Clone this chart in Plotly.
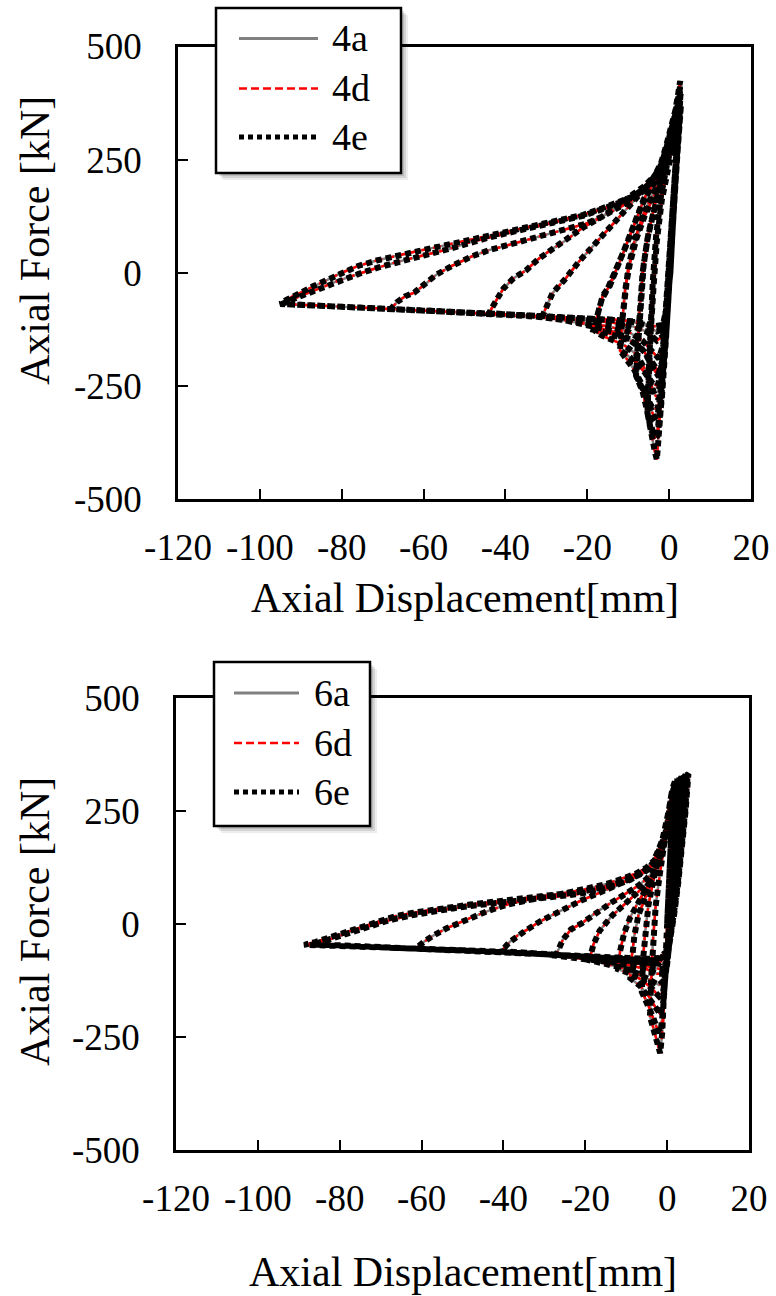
import plotly.graph_objects as go

W, H = 776, 1296
FONT = "Liberation Serif"

# ---------------- data (displacement mm, force kN) ----------------
# Specimen 4: the three analyses (4a, 4d, 4e) practically coincide in the picture.
path_4 = [
    (0, 0), (1.5, 200), (2.0, 290), (1.0, 150), (0, 10), (-1.0, -130), (-2.0, -290),
    (-1.0, -150), (0.5, 60), (1.8, 260), (2.3, 330), (1.2, 180), (0.2, 20), (-1.0, -150),
    (-2.2, -320), (-3.0, -413),
    (-3.5, -395), (-4.2, -360), (-5.3, -310),
    (-5.0, -220), (-4.6, -120), (-4.0, -20), (-3.2, 80), (-2.0, 170), (-0.5, 240), (1.0, 290),
    (2.0, 330), (2.4, 345),
    (1.5, 220), (0.6, 80), (-0.2, -40), (-1.0, -170), (-2.0, -290), (-3.0, -360), (-4.0, -350),
    (-5.3, -310),
    (-5.0, -230), (-4.5, -130), (-3.8, -30), (-3.0, 70), (-1.8, 160), (-0.3, 235), (1.2, 295),
    (2.2, 335), (2.6, 350),
    (1.7, 230), (0.9, 90), (0.1, -30), (-0.8, -150), (-1.8, -280), (-2.8, -360), (-3.6, -365),
    (-4.5, -345), (-5.5, -300), (-6.5, -262), (-8.1, -227),
    (-7.6, -150), (-7.0, -60), (-6.2, 20), (-5.0, 90), (-3.5, 150), (-2.0, 200), (-0.5, 250),
    (1.2, 300), (2.4, 350),
    (1.6, 240), (0.7, 100), (-0.1, -30), (-0.9, -140), (-1.8, -240), (-2.8, -300), (-4.0, -300),
    (-5.5, -275), (-7.0, -245), (-8.1, -227),
    (-7.7, -160), (-7.2, -80), (-6.5, 0), (-5.3, 75), (-3.8, 140), (-2.2, 195), (-0.7, 245),
    (1.0, 295), (2.3, 345),
    (1.5, 230), (0.6, 90), (-0.2, -30), (-1.0, -140), (-1.9, -250), (-2.8, -315), (-3.6, -320),
    (-5.0, -290), (-6.5, -250), (-8.5, -215), (-10.2, -192), (-12.0, -172),
    (-11.5, -110), (-10.8, -40), (-10.0, 10), (-8.5, 70), (-6.5, 125), (-4.5, 165), (-2.5, 200),
    (-0.8, 245), (1.0, 300), (2.5, 360),
    (1.6, 240), (0.7, 95), (-0.1, -20), (-0.9, -120), (-1.8, -210), (-2.8, -250), (-4.0, -245),
    (-6.0, -220), (-8.5, -195), (-10.5, -180), (-12.0, -172),
    (-11.4, -100), (-10.6, -30), (-9.6, 20), (-8.0, 75), (-6.0, 125), (-4.0, 163), (-2.2, 198),
    (-0.6, 245), (1.2, 305), (2.8, 365),
    (1.9, 250), (1.0, 110), (0.2, -10), (-0.6, -120), (-1.5, -220), (-2.4, -280), (-3.5, -270),
    (-5.5, -220), (-8.0, -180), (-11.0, -160), (-14.0, -148), (-16.4, -139), (-18.5, -126),
    (-17.5, -90), (-16.2, -50), (-14.5, -29), (-12.0, 25), (-10.0, 73), (-8.0, 120), (-6.3, 161),
    (-4.5, 190), (-2.5, 215), (-0.8, 255), (1.2, 320), (2.6, 370),
    (1.8, 260), (0.9, 120), (0.1, -10), (-0.7, -110), (-1.5, -190), (-2.5, -220), (-4.0, -200),
    (-6.5, -170), (-9.5, -150), (-13.0, -138), (-16.0, -131), (-18.5, -126),
    (-17.6, -95), (-16.5, -60), (-15.0, -35), (-12.5, 15), (-10.5, 60), (-8.5, 108), (-6.6, 150),
    (-4.6, 185), (-2.6, 212), (-0.9, 252), (1.0, 315), (2.9, 372),
    (2.0, 260), (1.0, 110), (0.2, -10), (-0.6, -110), (-1.5, -190), (-2.5, -230), (-4.0, -210),
    (-6.0, -175), (-9.0, -150), (-13.0, -132), (-17.0, -122), (-21.0, -113), (-26.0, -104),
    (-31.0, -97),
    (-30.0, -75), (-28.5, -45), (-27.0, -30), (-25.5, -15), (-22.0, 25), (-19.0, 55), (-16.4, 80),
    (-13.0, 115), (-10.0, 146), (-7.0, 175), (-4.5, 200), (-2.5, 225), (-0.8, 265), (1.2, 330),
    (2.7, 380),
    (1.9, 270), (0.9, 120), (0.1, -10), (-0.7, -100), (-1.5, -160), (-2.5, -190), (-4.0, -175),
    (-6.5, -150), (-10.0, -130), (-15.0, -118), (-20.0, -112), (-26.0, -104), (-32.0, -97),
    (-38.0, -93), (-44.0, -89),
    (-42.5, -65), (-40.5, -35), (-38.0, -12), (-35.0, 5), (-32.0, 30), (-29.0, 50), (-25.5, 70),
    (-21.0, 100), (-16.4, 124), (-12.5, 148), (-9.0, 170), (-6.0, 192), (-3.5, 215), (-1.5, 245),
    (0.3, 290), (2.0, 365), (2.8, 398),
    (2.0, 280), (1.0, 130), (0.2, 0), (-0.7, -90), (-1.5, -140), (-3.0, -150), (-5.5, -130),
    (-9.0, -118), (-14.0, -110), (-20.0, -105), (-28.0, -100), (-36.0, -95), (-45.0, -91),
    (-52.0, -87), (-58.0, -85), (-63.0, -82), (-68.0, -80),
    (-66.5, -65), (-64.5, -52), (-62.3, -44), (-59.5, -25), (-57.0, -5), (-53.1, 15), (-48.0, 37),
    (-44.0, 50), (-39.0, 62), (-34.7, 73), (-30.0, 84), (-25.5, 95), (-20.5, 108), (-16.4, 124),
    (-12.5, 142), (-9.0, 161), (-6.5, 180), (-4.0, 205), (-2.0, 235), (-0.5, 275), (1.2, 340),
    (2.7, 410),
    (2.0, 290), (1.0, 130), (0.3, 0), (-0.6, -80), (-1.4, -125), (-3.0, -130), (-6.0, -115),
    (-10.0, -106), (-16.0, -102), (-25.0, -99), (-35.0, -94), (-45.0, -90), (-57.7, -85),
    (-68.0, -80), (-75.0, -77), (-82.5, -73), (-89.0, -71), (-95.0, -69),
    (-93.5, -60), (-92.0, -52), (-90.0, -44), (-87.0, -30), (-83.4, -15), (-80.0, 0), (-76.0, 15),
    (-71.5, 27), (-67.0, 37), (-62.5, 46), (-57.7, 55), (-53.0, 64), (-48.5, 73), (-44.0, 82),
    (-39.3, 91), (-35.0, 100), (-30.1, 110), (-25.5, 119), (-21.0, 128), (-16.5, 142),
    (-11.8, 157), (-9.0, 168), (-7.2, 179), (-5.0, 195), (-3.5, 215), (-2.0, 242), (-0.8, 278),
    (0.5, 320), (1.5, 358), (2.2, 395), (2.7, 424),
    (2.0, 300), (1.1, 140), (0.3, 0), (-0.6, -75), (-1.5, -115), (-3.5, -118), (-8.0, -108),
    (-15.0, -103), (-25.0, -99), (-35.0, -94), (-45.0, -90), (-57.7, -85), (-68.0, -80),
    (-75.0, -77), (-82.5, -73), (-89.0, -71), (-94.5, -69),
    (-93.0, -62), (-91.0, -55), (-88.0, -45), (-85.0, -33), (-81.0, -18), (-76.0, -3),
    (-71.0, 12), (-66.0, 25), (-60.0, 38), (-54.0, 52), (-48.5, 68), (-44.0, 78), (-39.3, 88),
    (-35.0, 97), (-30.1, 107), (-25.5, 117), (-21.0, 126), (-16.5, 140), (-11.8, 155),
    (-9.0, 166), (-7.2, 177), (-5.0, 193), (-3.5, 212), (-2.0, 238), (-0.8, 272), (0.6, 315),
    (1.8, 360), (3.0, 400),
]

# Specimen 6: the three analyses (6a, 6d, 6e) practically coincide in the picture.
path_6 = [
    (0, 0), (0.6, 120), (1.2, 250), (0.5, 120), (0, 0), (-0.6, -130), (-1.0, -220), (-0.4, -100),
    (0.4, 60), (1.0, 200), (1.5, 300), (1.1, 200), (0.5, 80), (0, -20), (-0.6, -140),
    (-1.2, -240), (-1.7, -286),
    (-2.3, -265), (-3.2, -235), (-4.2, -205),
    (-3.9, -120), (-3.5, -40), (-2.8, 40), (-1.8, 110), (-0.6, 180), (0.5, 250), (1.3, 300),
    (2.0, 318),
    (1.7, 240), (1.2, 150), (0.7, 60), (0.2, -30), (-0.4, -120), (-1.0, -190), (-1.6, -240),
    (-2.5, -230), (-3.5, -205), (-4.8, -175), (-6.2, -150),
    (-5.9, -80), (-5.4, -20), (-4.6, 40), (-3.5, 90), (-2.2, 140), (-0.8, 195), (0.6, 255),
    (1.6, 300), (2.5, 320),
    (2.1, 240), (1.5, 150), (0.9, 60), (0.3, -30), (-0.3, -110), (-0.9, -170), (-1.6, -200),
    (-2.8, -185), (-4.5, -160), (-6.5, -138), (-9.0, -120),
    (-8.6, -70), (-8.0, -25), (-7.0, 20), (-5.3, 60), (-3.5, 100), (-2.0, 140), (-0.8, 185),
    (0.5, 245), (1.8, 300), (3.0, 322),
    (2.5, 230), (1.8, 140), (1.0, 50), (0.3, -40), (-0.3, -110), (-1.0, -150), (-2.0, -160),
    (-4.0, -140), (-6.5, -122), (-9.5, -108), (-12.0, -100),
    (-11.5, -60), (-10.5, -20), (-9.0, 15), (-7.0, 50), (-5.0, 80), (-3.5, 105), (-2.0, 140),
    (-0.8, 180), (0.6, 245), (2.0, 305), (3.5, 325),
    (3.0, 240), (2.3, 150), (1.5, 60), (0.6, -30), (0, -90), (-0.8, -125), (-2.0, -135),
    (-4.0, -125), (-7.0, -110), (-10.5, -98), (-14.0, -90), (-17.0, -84), (-19.0, -80),
    (-18.0, -45), (-16.5, -15), (-13.5, 18), (-11.0, 38), (-8.5, 58), (-6.0, 80), (-4.0, 100),
    (-2.5, 125), (-1.0, 165), (0.5, 230), (2.2, 300), (4.0, 325),
    (3.4, 230), (2.6, 140), (1.7, 60), (0.8, -20), (0.1, -80), (-0.8, -110), (-2.5, -110),
    (-5.0, -100), (-9.0, -92), (-14.0, -84), (-20.0, -78), (-24.0, -73), (-27.2, -70),
    (-25.5, -35), (-23.5, -12), (-20.8, 2), (-17.0, 28), (-13.5, 48), (-11.7, 58), (-9.0, 72),
    (-7.0, 85), (-5.0, 100), (-3.0, 120), (-1.5, 150), (0.2, 210), (2.2, 295), (4.5, 330),
    (3.8, 230), (3.0, 140), (2.0, 60), (1.0, -15), (0.2, -70), (-0.8, -100), (-3.0, -98),
    (-7.0, -88), (-13.0, -80), (-20.0, -74), (-27.0, -68), (-33.0, -64), (-37.0, -62),
    (-40.5, -60),
    (-38.5, -40), (-36.5, -25), (-34.5, -14), (-31.0, 6), (-28.0, 20), (-25.4, 32), (-21.0, 52),
    (-16.3, 70), (-12.0, 88), (-9.0, 100), (-6.0, 112), (-4.0, 125), (-2.3, 145), (-0.8, 180),
    (1.0, 240), (2.8, 305), (4.7, 331),
    (4.1, 250), (3.3, 180), (2.4, 91), (1.4, 30), (0.5, -30), (-0.4, -70), (-2.0, -88),
    (-5.0, -85), (-10.0, -80), (-16.0, -75), (-22.0, -71), (-30.0, -67), (-40.0, -61),
    (-48.0, -59), (-55.0, -57), (-61.5, -55),
    (-59.5, -40), (-57.4, -27), (-54.0, -10), (-51.0, 2), (-48.2, 13), (-44.0, 28), (-39.1, 43),
    (-34.5, 53), (-30.0, 60), (-25.0, 68), (-20.0, 77), (-15.0, 88), (-11.0, 100), (-7.5, 112),
    (-5.0, 125), (-3.0, 142), (-1.5, 165), (0.0, 205), (1.5, 255), (3.5, 315), (5.0, 330),
    (4.4, 250), (3.6, 170), (2.6, 90), (1.6, 20), (0.6, -35), (-0.4, -65), (-2.0, -80),
    (-5.0, -80), (-10.0, -77), (-17.0, -74), (-25.0, -70), (-33.0, -65), (-41.0, -61),
    (-50.0, -58), (-57.4, -56), (-66.5, -52), (-73.0, -50), (-80.2, -48), (-85.0, -47),
    (-88.7, -46),
    (-86.0, -40), (-82.9, -31), (-79.0, -20), (-75.6, -9), (-71.0, 4), (-66.5, 17), (-62.0, 25),
    (-57.4, 32), (-53.0, 38), (-48.2, 43), (-43.5, 48), (-39.1, 52.5), (-34.5, 57), (-30.0, 61),
    (-25.5, 66), (-20.8, 72), (-16.0, 81), (-11.7, 91), (-8.5, 102), (-6.2, 113), (-4.5, 125),
    (-3.5, 135), (-2.6, 154), (-1.8, 170), (-0.8, 194), (0.2, 240), (1.1, 290), (2.5, 315),
    (4.0, 325), (5.2, 332),
    (4.5, 250), (3.7, 170), (2.7, 90), (1.7, 20), (0.7, -35), (-0.3, -62), (-2.0, -75),
    (-5.0, -77), (-10.0, -75), (-17.0, -72), (-25.0, -68), (-33.0, -64), (-41.0, -60),
    (-50.0, -57), (-57.4, -55), (-66.5, -51), (-73.0, -49), (-80.2, -47), (-86.5, -45.5),
    (-84.0, -38), (-80.5, -28), (-77.0, -16), (-73.0, -5), (-68.0, 8), (-62.0, 20), (-57.4, 28),
    (-52.0, 35), (-47.0, 41), (-42.0, 46), (-37.0, 50), (-32.0, 55), (-27.0, 60), (-22.0, 66),
    (-17.0, 75), (-12.5, 86), (-9.0, 98), (-6.5, 110), (-4.5, 123), (-3.0, 140), (-1.8, 165),
    (-0.6, 195), (0.5, 240), (1.5, 290), (3.0, 318), (5.0, 330),
]

series_4 = ["4a", "4d", "4e"]
series_6 = ["6a", "6d", "6e"]
x_ticks = [-120, -100, -80, -60, -40, -20, 0, 20]
x_tick_text = ["-120", "-100", "-80", "-60", "-40", "-20", "0", "20"]
y_ticks = [-500, -250, 0, 250, 500]
y_tick_text = ["-500", "-250", "0", "250", "500"]
x_title = "Axial Displacement[mm]"
y_title = "Axial Force [kN]"

disp_4 = [p[0] for p in path_4]
force_4 = [p[1] for p in path_4]
disp_6 = [p[0] for p in path_6]
force_6 = [p[1] for p in path_6]

# ---------------- styles ----------------
styles = [
    dict(color="#808080", width=2.5, dash="solid"),
    dict(color="#ff0000", width=2.5, dash="8px,4px"),
    dict(color="#000000", width=6, dash="6px,4px"),
]
legend_widths = [3, 2.5, 5]
legend_dash = ["solid", "8px,4px", "5px,4px"]

fig = go.Figure()
for name, st in zip(series_4, styles):
    fig.add_trace(go.Scatter(x=disp_4, y=force_4, mode="lines", name=name, line=st,
                             xaxis="x", yaxis="y", showlegend=False, hoverinfo="skip"))
for name, st in zip(series_6, styles):
    fig.add_trace(go.Scatter(x=disp_6, y=force_6, mode="lines", name=name, line=st,
                             xaxis="x2", yaxis="y2", showlegend=False, hoverinfo="skip"))


def px(x):
    return x / W


def py(y):
    return 1 - y / H


axis_common = dict(
    showline=True, linecolor="black", linewidth=2.5, mirror=True,
    ticks="inside", ticklen=10, tickwidth=2, tickcolor="black",
    showgrid=False, zeroline=False, automargin=False, tickangle=0,
    tickfont=dict(family=FONT, size=37, color="black"),
)

fig.update_layout(
    template="none",
    width=W, height=H, margin=dict(l=0, r=0, t=0, b=0, pad=0),
    paper_bgcolor="white", plot_bgcolor="white", showlegend=False,
    xaxis=dict(domain=[px(178), px(751)], range=[-120, 20], tickvals=x_ticks,
               ticktext=x_tick_text, anchor="y", ticklabelstandoff=14, **axis_common),
    yaxis=dict(domain=[py(499), py(46.5)], range=[-500, 500], tickvals=y_ticks,
               ticktext=y_tick_text, anchor="x", ticklabelstandoff=26, **axis_common),
    xaxis2=dict(domain=[px(176), px(749)], range=[-120, 20], tickvals=x_ticks,
                ticktext=x_tick_text, anchor="y2", ticklabelstandoff=14, **axis_common),
    yaxis2=dict(domain=[py(1150), py(698)], range=[-500, 500], tickvals=y_ticks,
                ticktext=y_tick_text, anchor="x2", ticklabelstandoff=26, **axis_common),
)

annotations = []
shapes = []

# axis titles
for cx, cy in [(465, 598), (463, 1272)]:
    annotations.append(dict(x=px(cx), y=py(cy), xref="paper", yref="paper", text=x_title,
                            showarrow=False, xanchor="center", yanchor="middle",
                            font=dict(family=FONT, size=42, color="black")))
for cx, cy in [(35, 241), (35, 922)]:
    annotations.append(dict(x=px(cx), y=py(cy), xref="paper", yref="paper", text=y_title,
                            textangle=-90, showarrow=False, xanchor="center", yanchor="middle",
                            font=dict(family=FONT, size=42, color="black")))

# legend boxes (drawn as shapes + text so the sample lines have the original length)
legend_boxes = [
    dict(box=(216, 8, 401, 173), rows=(38.5, 88.5, 137), line=(239, 318), text_x=330, names=series_4),
    dict(box=(214, 662, 370, 826), rows=(693, 743, 792), line=(234, 299), text_x=312, names=series_6),
]
for lg in legend_boxes:
    x0, y0, x1, y1 = lg["box"]
    for off, alpha in [(7, 0.07), (5, 0.10), (3, 0.12)]:
        shapes.append(dict(type="rect", xref="paper", yref="paper", layer="above",
                           x0=px(x0 + off), x1=px(x1 + off), y0=py(y1 + off), y1=py(y0 + off),
                           line=dict(width=0), fillcolor=f"rgba(0,0,0,{alpha})"))
    shapes.append(dict(type="rect", xref="paper", yref="paper", layer="above",
                       x0=px(x0), x1=px(x1), y0=py(y1), y1=py(y0),
                       line=dict(color="black", width=2.5), fillcolor="white"))
    for ry, st, lw, ld, nm in zip(lg["rows"], styles, legend_widths, legend_dash, lg["names"]):
        shapes.append(dict(type="line", xref="paper", yref="paper", layer="above",
                           x0=px(lg["line"][0]), x1=px(lg["line"][1]), y0=py(ry), y1=py(ry),
                           line=dict(color=st["color"], width=lw, dash=ld)))
        annotations.append(dict(x=px(lg["text_x"]), y=py(ry), xref="paper", yref="paper",
                                text=nm, showarrow=False, xanchor="left", yanchor="middle",
                                font=dict(family=FONT, size=38, color="black")))

fig.update_layout(annotations=annotations, shapes=shapes)
fig.write_html("out.html")
